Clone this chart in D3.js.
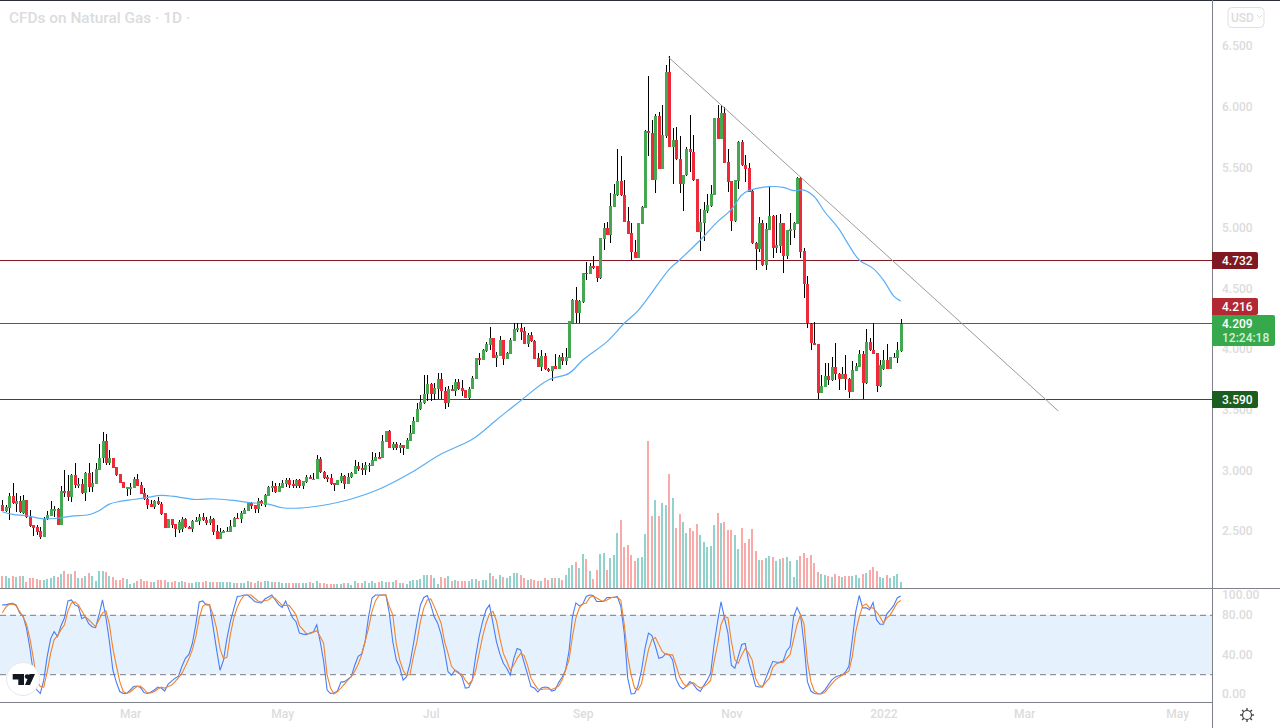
<!DOCTYPE html>
<html><head><meta charset="utf-8"><style>
html,body{margin:0;padding:0;background:#fff;overflow:hidden}
svg{display:block}
text{font-family:Roboto,"Liberation Sans",sans-serif}
</style>
<script src="https://cdn.jsdelivr.net/npm/d3@7/dist/d3.min.js"></script>
</head><body><svg id="c" width="1280" height="728"></svg>
<script>
const chartTitle="CFDs on Natural Gas · 1D ·";
const opens=[2.714,2.664,2.692,2.788,2.725,2.747,2.651,2.755,2.612,2.546,
2.53,2.497,2.453,2.596,2.626,2.678,2.681,2.551,2.829,2.827,
2.783,2.961,2.882,2.887,2.816,2.98,2.865,2.89,3.003,3.099,
3.242,3.063,3.101,3.025,2.967,2.903,2.854,2.857,2.857,2.928,
2.876,2.81,2.76,2.722,2.695,2.747,2.722,2.645,2.527,2.596,
2.557,2.507,2.513,2.598,2.535,2.519,2.582,2.585,2.615,2.59,
2.565,2.598,2.497,2.436,2.491,2.494,2.494,2.535,2.609,2.598,
2.642,2.667,2.727,2.711,2.681,2.747,2.714,2.791,2.857,2.87,
2.821,2.857,2.887,2.92,2.887,2.87,2.92,2.87,2.903,2.942,
2.926,2.928,3.094,2.986,2.943,2.934,2.896,2.882,2.912,2.951,
2.89,2.943,2.973,3.036,3.02,3.003,3.039,3.039,3.08,3.11,
3.105,3.237,3.325,3.185,3.217,3.185,3.207,3.179,3.242,3.303,
3.402,3.504,3.558,3.63,3.713,3.63,3.674,3.751,3.655,3.558,
3.669,3.655,3.726,3.677,3.66,3.6,3.671,3.754,3.924,3.91,
3.987,4.037,4.092,3.93,3.946,4.073,3.921,3.963,4.07,4.158,
4.174,4.147,4.042,4.117,4.067,3.93,3.855,3.946,3.839,3.82,
3.861,3.839,3.933,3.905,3.93,4.212,4.405,4.3,4.391,4.63,
4.622,4.686,4.683,4.589,4.91,4.999,4.941,5.174,5.268,5.386,
5.271,5.053,4.955,4.8,4.751,5.034,5.166,5.799,5.782,5.395,
5.922,5.488,5.757,6.286,5.67,5.724,5.568,5.359,5.433,5.65,
5.626,5.4,4.968,5.037,5.136,5.18,5.274,5.903,5.736,5.945,
5.54,5.386,5.056,5.389,5.708,5.515,5.491,5.301,4.872,4.825,
5.037,4.693,4.982,5.097,4.831,4.85,5.037,4.768,4.977,4.982,
5.032,5.408,4.806,4.539,4.209,4.052,4.039,3.64,3.689,3.778,
3.745,3.849,3.791,3.753,3.794,3.756,3.648,3.822,3.855,3.956,
3.717,4.055,3.994,3.965,3.698,3.835,3.907,3.835,3.929,3.929,
3.981];
const highs=[2.755,2.714,2.81,2.892,2.81,2.788,2.794,2.755,2.672,2.549,
2.549,2.53,2.612,2.667,2.747,2.705,2.686,2.87,3.003,2.961,
2.967,3.063,2.934,2.926,2.989,3.058,2.989,3.058,3.217,3.313,
3.3,3.167,3.104,3.03,2.97,2.906,2.865,2.892,2.948,2.97,
2.906,2.851,2.796,2.755,2.755,2.777,2.741,2.651,2.598,2.598,
2.557,2.59,2.612,2.604,2.54,2.59,2.617,2.637,2.651,2.612,
2.623,2.604,2.549,2.521,2.507,2.535,2.59,2.617,2.645,2.667,
2.686,2.741,2.741,2.714,2.769,2.755,2.805,2.87,2.912,2.892,
2.892,2.92,2.934,2.934,2.92,2.926,2.926,2.909,2.961,2.961,
2.975,3.126,3.113,2.995,2.962,2.967,2.899,2.921,2.975,2.962,
2.975,2.989,3.086,3.072,3.058,3.072,3.058,3.154,3.14,3.154,
3.292,3.328,3.333,3.237,3.237,3.229,3.209,3.264,3.374,3.437,
3.558,3.622,3.787,3.787,3.718,3.724,3.8,3.8,3.685,3.696,
3.704,3.751,3.751,3.746,3.663,3.685,3.778,3.93,3.965,3.998,
4.062,4.18,4.092,3.979,4.108,4.075,3.979,4.089,4.213,4.213,
4.213,4.185,4.13,4.144,4.075,3.965,3.993,3.965,3.842,3.861,
3.96,3.952,3.965,4.007,4.232,4.41,4.515,4.405,4.63,4.716,
4.708,4.768,4.686,4.92,5.037,5.051,5.285,5.359,5.65,5.592,
5.395,5.169,5.037,4.9,5.042,5.18,5.807,6.253,5.89,5.939,
5.958,6.013,6.343,6.417,5.821,5.829,5.757,5.433,5.664,5.931,
5.766,5.403,5.152,5.21,5.279,5.353,5.903,6.013,6.013,6,
5.65,5.389,5.395,5.719,5.724,5.601,5.532,5.312,4.88,5.087,
5.065,5.037,5.34,5.106,5.106,5.114,5.043,4.982,5.12,5.051,
5.422,5.417,4.831,4.603,4.212,4.226,4.042,3.786,3.888,3.888,
3.932,4.052,3.8,3.855,3.951,3.758,3.904,3.882,3.99,3.981,
4.163,4.088,4.212,3.97,3.91,3.992,4.042,3.937,3.965,4.061,
4.248];
const lows=[2.667,2.659,2.59,2.722,2.659,2.651,2.64,2.604,2.53,2.461,
2.466,2.43,2.453,2.59,2.623,2.617,2.551,2.551,2.783,2.747,
2.741,2.851,2.851,2.805,2.747,2.824,2.824,2.887,3.003,3.058,
3.044,3.044,3.016,2.953,2.892,2.851,2.788,2.796,2.851,2.87,
2.805,2.755,2.678,2.695,2.678,2.714,2.631,2.521,2.521,2.521,
2.453,2.485,2.494,2.527,2.516,2.488,2.576,2.549,2.582,2.551,
2.549,2.466,2.433,2.433,2.48,2.488,2.488,2.53,2.598,2.568,
2.64,2.667,2.678,2.651,2.651,2.705,2.695,2.788,2.821,2.816,
2.821,2.851,2.865,2.854,2.851,2.854,2.854,2.846,2.898,2.926,
2.926,2.926,2.975,2.926,2.907,2.879,2.833,2.877,2.893,2.846,
2.887,2.937,2.97,2.995,2.962,2.962,2.989,3.036,3.077,3.099,
3.102,3.237,3.185,3.168,3.168,3.14,3.127,3.179,3.242,3.3,
3.399,3.498,3.55,3.575,3.575,3.581,3.589,3.589,3.509,3.525,
3.652,3.613,3.663,3.613,3.597,3.581,3.669,3.751,3.869,3.91,
3.979,3.993,3.924,3.855,3.946,3.869,3.919,3.96,4.07,4.144,
4.075,4.04,4.015,4.062,3.916,3.85,3.823,3.828,3.811,3.737,
3.839,3.836,3.869,3.869,3.93,4.212,4.212,4.212,4.377,4.57,
4.62,4.658,4.556,4.578,4.817,4.938,4.877,5.172,5.265,5.265,
5.048,4.949,4.735,4.748,4.748,5.032,5.166,5.592,5.392,5.29,
5.485,5.485,5.744,5.67,5.359,5.562,5.285,5.142,5.427,5.463,
5.389,4.963,4.812,4.894,5.12,5.174,5.271,5.733,5.73,5.532,
5.298,4.974,5.051,5.32,5.51,5.381,5.293,4.867,4.652,4.803,
4.685,4.652,4.979,4.748,4.79,4.795,4.63,4.74,4.858,4.913,
5.029,4.754,4.424,4.171,3.992,4.031,3.585,3.635,3.684,3.703,
3.739,3.745,3.662,3.75,3.662,3.599,3.643,3.816,3.849,3.585,
3.712,3.986,3.956,3.648,3.684,3.827,3.833,3.833,3.923,3.888,
3.978];
const closes=[2.667,2.695,2.788,2.727,2.747,2.659,2.755,2.612,2.54,2.527,
2.494,2.453,2.601,2.631,2.681,2.681,2.551,2.829,2.821,2.783,
2.961,2.882,2.887,2.816,2.98,2.865,2.892,3.008,3.1,3.242,
3.063,3.101,3.022,2.961,2.898,2.857,2.862,2.862,2.928,2.873,
2.807,2.76,2.717,2.7,2.747,2.722,2.64,2.527,2.598,2.551,
2.513,2.573,2.598,2.53,2.519,2.582,2.59,2.612,2.587,2.565,
2.598,2.494,2.436,2.494,2.499,2.502,2.54,2.604,2.598,2.648,
2.672,2.73,2.705,2.681,2.744,2.719,2.796,2.862,2.87,2.821,
2.87,2.892,2.92,2.882,2.873,2.92,2.873,2.909,2.945,2.928,
2.931,3.093,2.989,2.94,2.929,2.89,2.882,2.918,2.953,2.89,
2.948,2.978,3.036,3.011,3.006,3.044,3.047,3.083,3.11,3.102,
3.242,3.328,3.187,3.217,3.187,3.209,3.182,3.253,3.306,3.407,
3.506,3.564,3.63,3.713,3.63,3.679,3.751,3.655,3.558,3.671,
3.655,3.729,3.671,3.655,3.6,3.674,3.762,3.924,3.91,3.993,
4.042,4.092,3.93,3.952,4.073,3.919,3.965,4.075,4.166,4.177,
4.144,4.042,4.119,4.065,3.921,3.855,3.944,3.834,3.82,3.861,
3.839,3.935,3.905,3.935,4.232,4.405,4.3,4.4,4.63,4.622,
4.686,4.669,4.589,4.913,4.999,4.941,5.18,5.279,5.386,5.268,
5.051,4.952,4.798,4.751,5.04,5.169,5.799,5.78,5.395,5.922,
5.488,5.763,6.286,5.67,5.724,5.565,5.359,5.433,5.65,5.623,
5.395,4.968,5.045,5.147,5.186,5.279,5.903,5.736,5.945,5.537,
5.381,5.056,5.392,5.708,5.515,5.488,5.298,4.872,4.825,5.042,
4.693,4.99,5.097,4.834,4.856,5.037,4.768,4.982,4.987,5.037,
5.408,4.803,4.539,4.212,4.052,4.036,3.64,3.695,3.775,3.745,
3.849,3.791,3.756,3.791,3.753,3.648,3.827,3.86,3.956,3.717,
4.055,3.994,3.962,3.698,3.868,3.91,3.838,3.934,3.937,3.994,
4.209];
const volumes=[12,12,10,12,11,12,12,6,10,10,9,8,8,9,10,12,11,14,17,14,14,17,10,10,12,15,12,7,17,17,16,12,11,8,8,10,9,4,5,7,9,7,7,6,6,8,8,8,6,6,7,6,7,6,5,5,6,6,6,7,6,6,6,6,6,6,6,5,5,5,5,7,6,5,7,6,7,7,6,6,6,5,5,5,5,5,5,5,5,6,5,7,
5,5,4,4,4,4,4,5,5,3,7,5,5,7,5,7,5,6,7,6,6,6,8,5,5,4,7,8,8,9,13,13,13,10,4,11,10,12,7,8,7,7,7,7,9,9,7,8,8,15,12,9,13,11,10,12,15,15,13,10,8,9,8,7,7,10,8,10,10,10,8,13,20,23,26,20,34,29,17,9,18,34,35,18,30,33,55,68,41,43,
33,27,30,31,54,147,72,88,72,85,83,114,90,60,74,66,55,60,57,64,53,46,41,42,63,75,65,66,58,58,53,39,60,45,49,59,37,28,28,30,32,31,27,29,30,31,27,11,28,32,35,30,33,25,16,14,13,12,11,14,12,11,12,12,12,13,10,14,15,18,21,17,11,10,13,10,12,14,6];
const stochK=[90,90,91,91.5,90,82,79,66.5,46,21,4,0.5,14,38,56,63,58,69,77,94,95,90,88.5,76,78,71,68,67,80,95,77,53,24,12,2.5,0.5,0.5,4,7.5,8,6.5,1.5,0.5,2,4,7,6,3,10,13,16,18,28,36,40,51,70,93,94,90,90,68,45,24,34,56,73,86,98.5,99,100,100,97,93.5,92.5,92,96,98,100,95,90,87.5,94,85,77,73,61.5,60.5,60,61.5,62.5,70,53,33,4,0.5,1,3,12,12.5,15,17.5,29,38,40.5,53,78,97,100,100,100,100,82,53,34.5,27,14,17.5,31,51,71.5,90,97.5,99.5,90,78,71.5,60,43,22.5,19,24,22,
17.5,6,6.5,14,38,58,73,85,90,71.5,53,40.5,31,26,19,35.5,46,44.5,32,20,7.5,6,2,6,7,6.5,3,4,11.5,17,24,43,78,92,89,91,98.5,100,99.5,93.5,93.5,93.5,97.5,97.5,97.5,98.5,88.5,61.5,16,0,0.5,8.5,24,46,61.5,59,48.5,36,37,40.5,40,34.5,15,8,5,8,12.5,10,5,2.5,8.5,14,21,50,73,93,77,61.5,29,26,38,50,51,33,21,8,7,7,16,25,33,32,32,33.5,43.5,48,78,87.5,80,51,12.5,3,0.5,0,0.5,4,9,14,17,18.5,19,22,28,55,83.5,99.5,87,87,85,92.5,75,70.5,70.5,81,85,89.5,97,99];
const stochD=[82,87.5,90.5,91,89,83.5,78,70.5,56,36,13,7.5,7,22.5,41,55,59,65,70,84,92,93,90,84,78,75,71.5,68,75,82,84,70,46,29,12.5,2.5,0.5,2,5,7.5,8,5,1,1,2.5,5,7,6,7.5,9,12.5,16.5,21,28,35.5,44.5,58,77,88.5,91,90,80,66.5,46,35.5,37,60,77,87.5,95,99.5,100,100,97,94,93,94.5,95,98,96.5,93,89.5,89.5,89.5,85,80,69,65,61,61,62.5,64,58,51,19,6,0,2.5,6,10,14,17.5,23,30,39.5,53,66.5,83.5,94,99.5,100,100,88.5,80,51,34.5,24,18.5,20,38,53,73,87,95,96,88.5,80,71.5,53,41,28,24,21,
20,14,10,14,24,41,58,71.5,81,83.5,74,56.5,41,33,24,29,36,41,39,29,16,10,5,4.5,5,5,4.5,6,8,14,24,34.5,58,77,87,91,92,97.5,99,97,95,93.5,95,97,98,97.5,95,70,38,19,6,4,10.5,28,44.5,55,57,50,43,40,39.5,39.5,29,17.5,11,7.5,10,11.5,8.5,6,7.5,10,14,33,50,70,78,77,53,34.5,31,39.5,46,41,34.5,16,9,7.5,12,16,27,30.5,31.5,32,36,40,55,70,80,71,33,12.5,3,0.5,0,1.5,6,10,14,16.5,19,21,23,38,63,78,89,91,87,87,83,78,71.5,77,80,86,92,94.5];
const maIndex=[0,3,7,12,16,20,25,28,31,34,38,42,46,51,56,61,67,72,77,81,86,92,100,109,118,127,136,143,150,158,164,168,175,180,184,193,196,202,207,211,214,216,222,226,229,232,235,238,242,245,248,252,255,258,260];
const maValues=[2.659,2.637,2.626,2.601,2.606,2.623,2.634,2.667,2.722,2.744,2.76,2.777,2.794,2.78,2.76,2.766,2.752,2.733,2.722,2.692,2.689,2.708,2.756,2.844,2.976,3.135,3.256,3.416,3.575,3.745,3.8,3.91,4.062,4.213,4.318,4.658,4.735,4.9,5.051,5.152,5.271,5.307,5.34,5.334,5.307,5.312,5.257,5.133,4.996,4.858,4.735,4.666,4.57,4.437,4.396];
const trendBars=[192.7,305.6];
const trendPrices=[6.41,3.49];
const priceTicks=[6.5,6,5.5,5,4.5,4,3.5,3,2.5];
const stochTicks=[100,80,40,0];
const bandLevels=[80,20];
const monthPositions=[37,81,124,168,211,255,295.7,340];
const monthLabels=["Mar","May","Jul","Sep","Nov","2022","Mar","May"];
const levelPrices=[4.732,4.216,3.59];
const lastPrice=4.209, countdown="12:24:18", currency="USD";

const n=closes.length;
const x=d3.scaleLinear().domain([0,n-1]).range([2.3,900.7]);
const y=d3.scaleLinear().domain([2.5,6.5]).range([531,46]);
const yV=d3.scaleLinear().domain([0,147]).range([588,441]);
const yS=d3.scaleLinear().domain([0,100]).range([694,595]);
const W=1212;
const svg=d3.select("#c");
const greyAxis="#7f8189", faint="#dcdcdc";

// stochastic band
svg.append("rect").attr("x",0).attr("width",W).attr("y",yS(bandLevels[0])).attr("height",yS(bandLevels[1])-yS(bandLevels[0])).attr("fill","#e5f2fd");
svg.selectAll(".band").data(bandLevels).join("line").attr("x1",0).attr("x2",W).attr("y1",d=>yS(d)+.5).attr("y2",d=>yS(d)+.5)
  .attr("stroke","#787b86").attr("stroke-dasharray","6 4");

// volume
const idx=d3.range(n);
svg.append("g").attr("shape-rendering","crispEdges").selectAll("rect").data(idx).join("rect")
  .attr("x",i=>Math.round(x(i))-1).attr("width",2)
  .attr("y",i=>yV(volumes[i])).attr("height",i=>yV(0)-yV(volumes[i]))
  .attr("fill",i=>closes[i]>=opens[i]?"#92d2cc":"#f9a9a7");

// level lines
svg.append("line").attr("x1",0).attr("x2",W).attr("y1",Math.round(y(levelPrices[0]))+.5).attr("y2",Math.round(y(levelPrices[0]))+.5).attr("stroke","#801922");
svg.append("line").attr("x1",0).attr("x2",W).attr("y1",Math.round(y(levelPrices[2]))+.5).attr("y2",Math.round(y(levelPrices[2]))+.5).attr("stroke","#1b5e20");
svg.append("line").attr("x1",0).attr("x2",W).attr("y1",Math.round(y(levelPrices[1]))+.5).attr("y2",Math.round(y(levelPrices[1]))+.5).attr("stroke","#2e7d32");
svg.append("line").attr("x1",0).attr("x2",W).attr("y1",Math.round(y(levelPrices[1]))+.5).attr("y2",Math.round(y(levelPrices[1]))+.5).attr("stroke","#b22833").attr("stroke-dasharray","1 2");

// wicks + bodies
svg.append("g").attr("shape-rendering","crispEdges").selectAll("rect").data(idx).join("rect")
  .attr("x",i=>Math.round(x(i))).attr("width",1).attr("y",i=>y(highs[i])).attr("height",i=>y(lows[i])-y(highs[i])).attr("fill","#000");
svg.append("g").attr("shape-rendering","crispEdges").selectAll("rect").data(idx).join("rect")
  .attr("x",i=>Math.round(x(i))-1).attr("width",3)
  .attr("y",i=>y(Math.max(opens[i],closes[i])))
  .attr("height",i=>Math.max(1.5,Math.abs(y(opens[i])-y(closes[i]))))
  .attr("fill",i=>closes[i]>=opens[i]?"#43a84f":"#ee2a3a");

// moving average
svg.append("path").attr("fill","none").attr("stroke","#5aaef5").attr("stroke-width",1.2)
  .attr("d",d3.line().x(i=>x(maIndex[i])).y(i=>y(maValues[i])).curve(d3.curveCatmullRom.alpha(.5))(d3.range(maIndex.length)));

// trend line
svg.append("line").attr("x1",x(trendBars[0])).attr("x2",x(trendBars[1])).attr("y1",y(trendPrices[0])).attr("y2",y(trendPrices[1])).attr("stroke","#9a9a9a").attr("stroke-width",1);

// stochastic
const sl=arr=>d3.line().x(i=>x(i)).y(i=>yS(arr[i]))(idx);
svg.append("path").attr("fill","none").attr("stroke","#4a7cf7").attr("stroke-width",1.1).attr("d",sl(stochK));
svg.append("path").attr("fill","none").attr("stroke","#f5822a").attr("stroke-width",1.1).attr("d",sl(stochD));

// frame
svg.append("rect").attr("x",0).attr("y",0).attr("width",1280).attr("height",1).attr("fill","#2a2e39");
svg.append("rect").attr("x",W).attr("y",0).attr("width",1).attr("height",728).attr("fill",greyAxis);
svg.append("rect").attr("x",0).attr("y",588).attr("width",1280).attr("height",1).attr("fill",greyAxis);
svg.append("rect").attr("x",0).attr("y",702).attr("width",W).attr("height",1).attr("fill",greyAxis);

// axes
function clean(g){g.select(".domain").remove();g.selectAll(".tick line").remove();
  g.selectAll("text").attr("fill",faint).attr("font-size",12).attr("font-family","Roboto,sans-serif").attr("font-weight",500);}
svg.append("g").attr("transform","translate(1222,0)").call(d3.axisRight(y).tickValues(priceTicks).tickSize(0).tickPadding(0).tickFormat(d3.format(".3f"))).call(clean);
svg.append("g").attr("transform","translate(1222,0)").call(d3.axisRight(yS).tickValues(stochTicks).tickSize(0).tickPadding(0).tickFormat(d3.format(".2f"))).call(clean);
svg.append("g").attr("transform","translate(0,703)").call(d3.axisBottom(x).tickValues(monthPositions).tickSize(0).tickPadding(6)
  .tickFormat((d,i)=>monthLabels[i])).call(clean);

// price labels
const labels=[[levelPrices[0],"#801922",252,46,17],[levelPrices[1],"#b22833",298,46,17],[levelPrices[2],"#1b5e20",391,46,17]];
labels.forEach(([v,c,t,w,h])=>{
  svg.append("path").attr("fill",c).attr("d",`M${W} ${t}H${W+w-2}q2 0 2 2V${t+h-2}q0 2 -2 2H${W}Z`);
  svg.append("text").attr("x",1222).attr("y",t+h/2+4.5).attr("fill","#fff").attr("font-size",12).attr("font-weight",500).text(v.toFixed(3));
});
svg.append("path").attr("fill","#36a94d").attr("d",`M${W} 315H1273q2 0 2 2V344q0 2 -2 2H${W}Z`);
svg.append("text").attr("x",1222).attr("y",327.5).attr("fill","#fff").attr("font-size",12).attr("font-weight",500).text(lastPrice.toFixed(3));
svg.append("text").attr("x",1222).attr("y",342).attr("fill","#d4efd9").attr("font-size",12).attr("font-weight",500).text(countdown);

// title
svg.append("text").attr("x",9).attr("y",23).attr("fill",faint).attr("font-size",15.4).attr("font-weight",500).text(chartTitle);

// currency button
svg.append("rect").attr("x",1228).attr("y",7.5).attr("width",36).attr("height",20).attr("rx",4).attr("fill","#fff").attr("stroke","#dfe0e6");
svg.append("text").attr("x",1231).attr("y",22).attr("fill",faint).attr("font-size",12).attr("font-weight",500).text(currency);
svg.append("path").attr("fill","none").attr("stroke",faint).attr("d","M1257 15l2.5 2.5l2.5 -2.5");

// logo
svg.append("circle").attr("cx",23).attr("cy",679).attr("r",16.5).attr("fill","#fff").attr("stroke","#e6e8ee").attr("stroke-width",1);
svg.append("path").attr("fill","#131722").attr("d","M12.7 674H24V685H18.3V679.5H12.7ZM29.5 674H35L30 685H25Z");
svg.append("circle").attr("cx",27.2).attr("cy",676.6).attr("r",2.4).attr("fill","#131722");

// gear
const gear=svg.append("g").attr("transform","translate(1247,715)").attr("fill","none").attr("stroke","#444");
gear.append("circle").attr("r",4.5).attr("stroke-width",1.2);
d3.range(8).forEach(k=>{const a=k*Math.PI/4;
  gear.append("line").attr("x1",4.5*Math.cos(a)).attr("y1",4.5*Math.sin(a)).attr("x2",7*Math.cos(a)).attr("y2",7*Math.sin(a)).attr("stroke-width",1.4);});
</script></body></html>
